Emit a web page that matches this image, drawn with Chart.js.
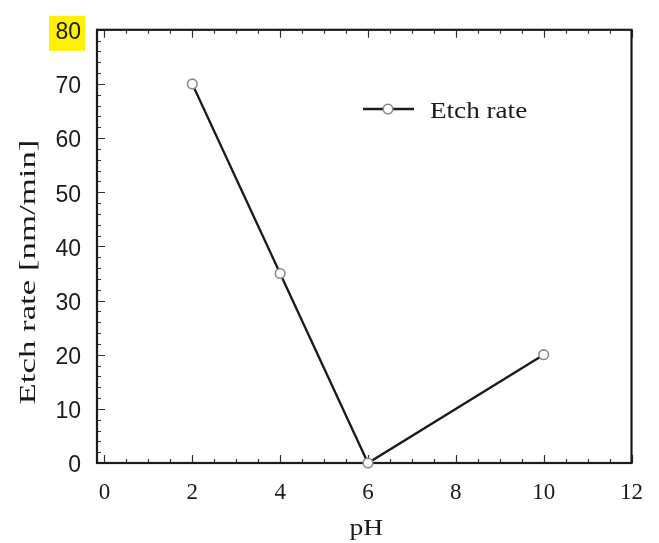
<!DOCTYPE html>
<html>
<head>
<meta charset="utf-8">
<title>Etch rate vs pH</title>
<script src="https://cdn.jsdelivr.net/npm/chart.js@4.4.1/dist/chart.umd.min.js"></script>
<style>
  html, body { margin: 0; padding: 0; background: #fff; }
  #wrap { width: 659px; height: 543px; }
</style>
</head>
<body>
<div id="wrap"><canvas id="etchChart" width="659" height="543"></canvas></div>
<script>
const phValues = [2, 4, 6, 10];
const etchRates = [70, 35, 0, 20];
const xTicks = [0, 2, 4, 6, 8, 10, 12];
const yTicks = [0, 10, 20, 30, 40, 50, 60, 70, 80];
const seriesLabel = 'Etch rate';
const xTitle = 'pH';
const yTitle = 'Etch rate [nm/min]';

const SERIF = '"Liberation Serif", "Times New Roman", serif';
const SANS = '"Liberation Sans", Arial, sans-serif';

// texto esticado na horizontal, como na figura original
function drawStretched(ctx, text, x, y, font, sx, rot) {
    ctx.save();
    ctx.translate(x, y);
    if (rot) ctx.rotate(rot);
    ctx.scale(sx, 1);
    ctx.font = font;
    ctx.fillStyle = '#1a1a1a';
    ctx.textAlign = 'center';
    ctx.textBaseline = 'alphabetic';
    ctx.fillText(text, 0, 0);
    ctx.restore();
}

function marker(ctx, x, y) {
    ctx.beginPath();
    ctx.arc(x, y, 4.8, 0, Math.PI * 2);
    ctx.fillStyle = '#fff';
    ctx.fill();
    ctx.lineWidth = 1.6;
    ctx.strokeStyle = '#8a8a8a';
    ctx.stroke();
}

const framePlugin = {
    id: 'frame',
    beforeDraw(chart) {
        // fundo amarelo atrás do rótulo "80"
        const { ctx, scales: { y }, chartArea } = chart;
        const py = y.getPixelForValue(yTicks[yTicks.length - 1]) + 3;
        ctx.save();
        ctx.fillStyle = '#fff200';
        ctx.fillRect(chartArea.left - 48, py - 17, 36, 35);
        ctx.restore();
    },
    beforeDatasetsDraw(chart) {
        const { ctx, chartArea: a, scales: { x, y } } = chart;
        ctx.save();
        ctx.strokeStyle = '#333';
        ctx.lineWidth = 1.2;
        ctx.beginPath();
        for (let v = 0; v <= 12; v += 0.5) {
            const px = Math.round(x.getPixelForValue(v)) + 0.5;
            const len = v % 2 === 0 ? 8 : 4;
            ctx.moveTo(px, a.bottom); ctx.lineTo(px, a.bottom - len);
            ctx.moveTo(px, a.top); ctx.lineTo(px, a.top + len);
        }
        for (let v = 0; v <= 80; v += 2) {
            const py = Math.round(y.getPixelForValue(v)) + 0.5;
            const len = v % 10 === 0 ? 8 : 4;
            ctx.moveTo(a.left, py); ctx.lineTo(a.left + len, py);
        }
        ctx.stroke();
        ctx.strokeStyle = '#1a1a1a';
        ctx.lineWidth = 2.2;
        ctx.strokeRect(a.left, a.top, a.right - a.left, a.bottom - a.top);
        ctx.restore();
    },
    afterDraw(chart) {
        const { ctx, chartArea: a } = chart;
        drawStretched(ctx, yTitle, 35, 272, '24px ' + SERIF, 1.45, -Math.PI / 2);
        drawStretched(ctx, xTitle, (a.left + a.right) / 2 + 2, 535, '23px ' + SERIF, 1.2, 0);

        // legenda dentro da área do gráfico
        const lx = 363, ly = 109;
        ctx.save();
        ctx.strokeStyle = '#1a1a1a';
        ctx.lineWidth = 2.3;
        ctx.beginPath();
        ctx.moveTo(lx, ly); ctx.lineTo(lx + 51, ly);
        ctx.stroke();
        marker(ctx, lx + 25, ly);
        ctx.restore();
        ctx.save();
        ctx.translate(430, 118);
        ctx.scale(1.18, 1);
        ctx.font = '23px ' + SERIF;
        ctx.fillStyle = '#1a1a1a';
        ctx.textAlign = 'left';
        ctx.fillText(seriesLabel, 0, 0);
        ctx.restore();
    }
};

new Chart(document.getElementById('etchChart'), {
    type: 'line',
    data: {
        datasets: [{
            label: seriesLabel,
            data: phValues.map((p, i) => ({ x: p, y: etchRates[i] })),
            borderColor: '#1a1a1a',
            borderWidth: 2.3,
            pointRadius: 4.8,
            pointBorderWidth: 1.6,
            pointBorderColor: '#8a8a8a',
            pointBackgroundColor: '#fff',
            tension: 0,
            clip: false
        }]
    },
    options: {
        responsive: false,
        animation: false,
        layout: { padding: { top: 21, right: 24, left: 0, bottom: 0 } },
        plugins: { legend: { display: false }, tooltip: { enabled: false } },
        scales: {
            x: {
                type: 'linear',
                min: -0.17,
                max: 12,
                afterBuildTicks: s => { s.ticks = xTicks.map(v => ({ value: v })); },
                afterFit: s => { s.height = 80; },
                grid: { display: false, drawTicks: false },
                border: { display: false },
                ticks: { font: { family: SERIF, size: 23 }, color: '#1a1a1a', padding: 16, maxRotation: 0, autoSkip: false }
            },
            y: {
                min: 0,
                max: 80,
                afterBuildTicks: s => { s.ticks = yTicks.map(v => ({ value: v })); },
                afterFit: s => { s.width = 97; },
                grid: { display: false, drawTicks: false },
                border: { display: false },
                ticks: { font: { family: SANS, size: 23 }, color: '#1a1a1a', padding: 16, labelOffset: 3 }
            }
        }
    },
    plugins: [framePlugin]
});
</script>
</body>
</html>
